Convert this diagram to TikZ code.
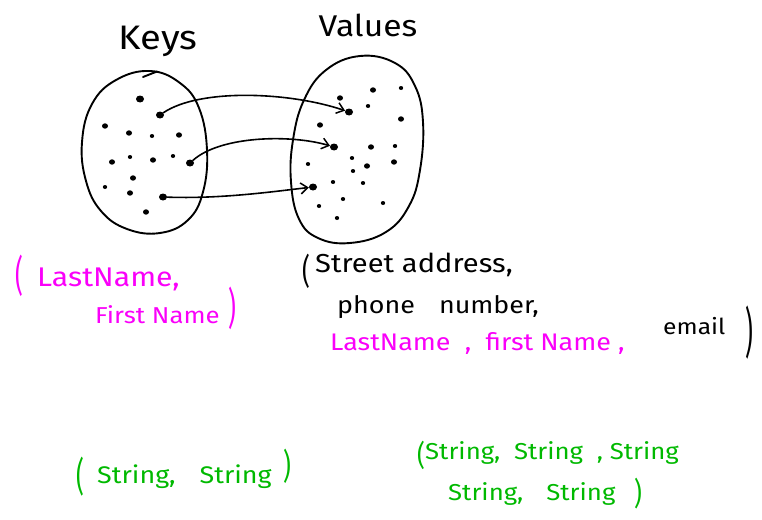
\documentclass[tikz,border=0pt]{standalone}
\usepackage{fontspec}
\setmainfont{Fira Sans}[FakeStretch=1.12]
\usetikzlibrary{arrows.meta,shapes.geometric}
\definecolor{hlmag}{RGB}{250,0,250}
\definecolor{hlgreen}{RGB}{0,185,0}
% a tall, thin bracket as drawn by a pen
\newcommand{\tallbr}[2]{\scalebox{0.9}[#1]{#2}}

\begin{document}
\begin{tikzpicture}[x=1pt,y=-1pt,
  blob/.style={line width=1.9pt, line join=round, line cap=round},
  dot/.style={ellipse, fill, inner sep=0pt, minimum width=6pt, minimum height=5.4pt},
  bigdot/.style={dot, minimum width=8pt, minimum height=7pt},
  smalldot/.style={dot, minimum width=4.4pt, minimum height=4pt},
  link/.style={line width=1.6pt, line cap=round,
    -{Straight Barb[length=7pt,width=11pt,line width=1.5pt]}},
  hand/.style={inner sep=0pt, font=\fontsize{#1}{#1}\selectfont},
]
\fill[white] (0,0) rectangle (762,519);
\useasboundingbox (0,0) rectangle (762,519);

% the two sets
\draw[blob] plot[smooth cycle, tension=0.7] coordinates {
  (150,71) (180,83) (199,108) (207,150) (203,192) (188,220)
  (160,233) (127,229) (101,211) (86,181) (82,142) (92,104) (116,80)};
\draw[blob] (143,77) -- (157,71.5);
\draw[blob] plot[smooth cycle, tension=0.7] coordinates {
  (360,56) (395,63) (415,86) (423,122) (420,170) (409,206)
  (386,232) (350,243) (318,238) (299,219) (291,182) (293,140)
  (304,100) (326,70)};

% keys
\foreach \n/\x/\y/\s in {
  1/140/99/bigdot, a/160/115/bigdot, 2/105/126/dot, 3/129/133/dot,
  4/152/136/smalldot, 5/179/135/dot, 6/112/162/dot, 7/130/157/smalldot,
  8/153/160/dot, 9/173/156/smalldot, b/190/163/bigdot, 10/133/178/dot,
  11/105/187/smalldot, 12/130/193/dot, c/163/197/bigdot, 13/146/212/dot}
  \node[\s] (k\n) at (\x,\y) {};

% values
\foreach \n/\x/\y/\s in {
  1/340/98/dot, 2/373/90/dot, 3/401/88/smalldot, a/349/112/bigdot,
  4/368/106/smalldot, 5/320/125/dot, 6/401/119/dot, b/334/147/bigdot,
  7/371/147/dot, 8/395/146/smalldot, 9/308/164/smalldot,
  10/352/158/smalldot, 11/353/171/smalldot, 12/367/166/dot,
  13/394/162/dot, c/313/187/bigdot, 14/333/182/smalldot,
  15/363/183/smalldot, 16/319/206/smalldot, 17/343/199/smalldot,
  18/383/203/smalldot, 19/337/218/smalldot}
  \node[\s] (v\n) at (\x,\y) {};

% mapping
\draw[link] (ka) .. controls (200,88) and (290,92) .. (va);
\draw[link] (kb) .. controls (220,136) and (290,134) .. (vb);
\draw[link] (kc) .. controls (220,199) and (270,192) .. (vc);

% headings
\node[hand=34, anchor=base] (keys) at (158,49) {Keys};
\node[hand=30, anchor=base] (vals) at (368,37) {Values};

% key fields
\begin{scope}[hlmag]
\node[hand=24] (kp1) at (19,276) {\tallbr{1.75}{(}};
\node[hand=27, anchor=base west] (kl1) at (37,286) {LastName,};
\node[hand=23, anchor=base west] (kl2) at (95,323) {First Name};
\node[hand=24] (kp2) at (232,308) {\tallbr{1.8}{)}};
\end{scope}

% value fields
\node[hand=24] (vp1) at (306,271) {\tallbr{1.45}{(}};
\node[hand=26, anchor=base west] (vl1) at (315,272) {Street address,};
\node[hand=24, anchor=base west] (vl2) at (337,313) {phone\quad number,};
\node[hand=24, anchor=base west, hlmag] (vl3) at (330,350)
  {LastName\ \ ,\ \ first Name\ ,};
\node[hand=22, anchor=base west] (vl4) at (663,334) {email};
\node[hand=24] (vp2) at (749,333) {\tallbr{2.25}{)}};

% types
\begin{scope}[hlgreen]
\node[hand=24] (tp1) at (80,477) {\tallbr{1.65}{(}};
\node[hand=24, anchor=base west] (tl1) at (97,483) {String,\quad String};
\node[hand=24] (tp2) at (287,466) {\tallbr{1.45}{)}};
\node[hand=24] (tp3) at (421,455) {\tallbr{1.2}{(}};
\node[hand=23, anchor=base west] (tl2) at (425,459)
  {String,\ \ String\ \ ,\ String};
\node[hand=23, anchor=base west] (tl3) at (448,500) {String,\quad String};
\node[hand=24] (tp4) at (638,494) {\tallbr{1.3}{)}};
\end{scope}
\end{tikzpicture}
\end{document}
